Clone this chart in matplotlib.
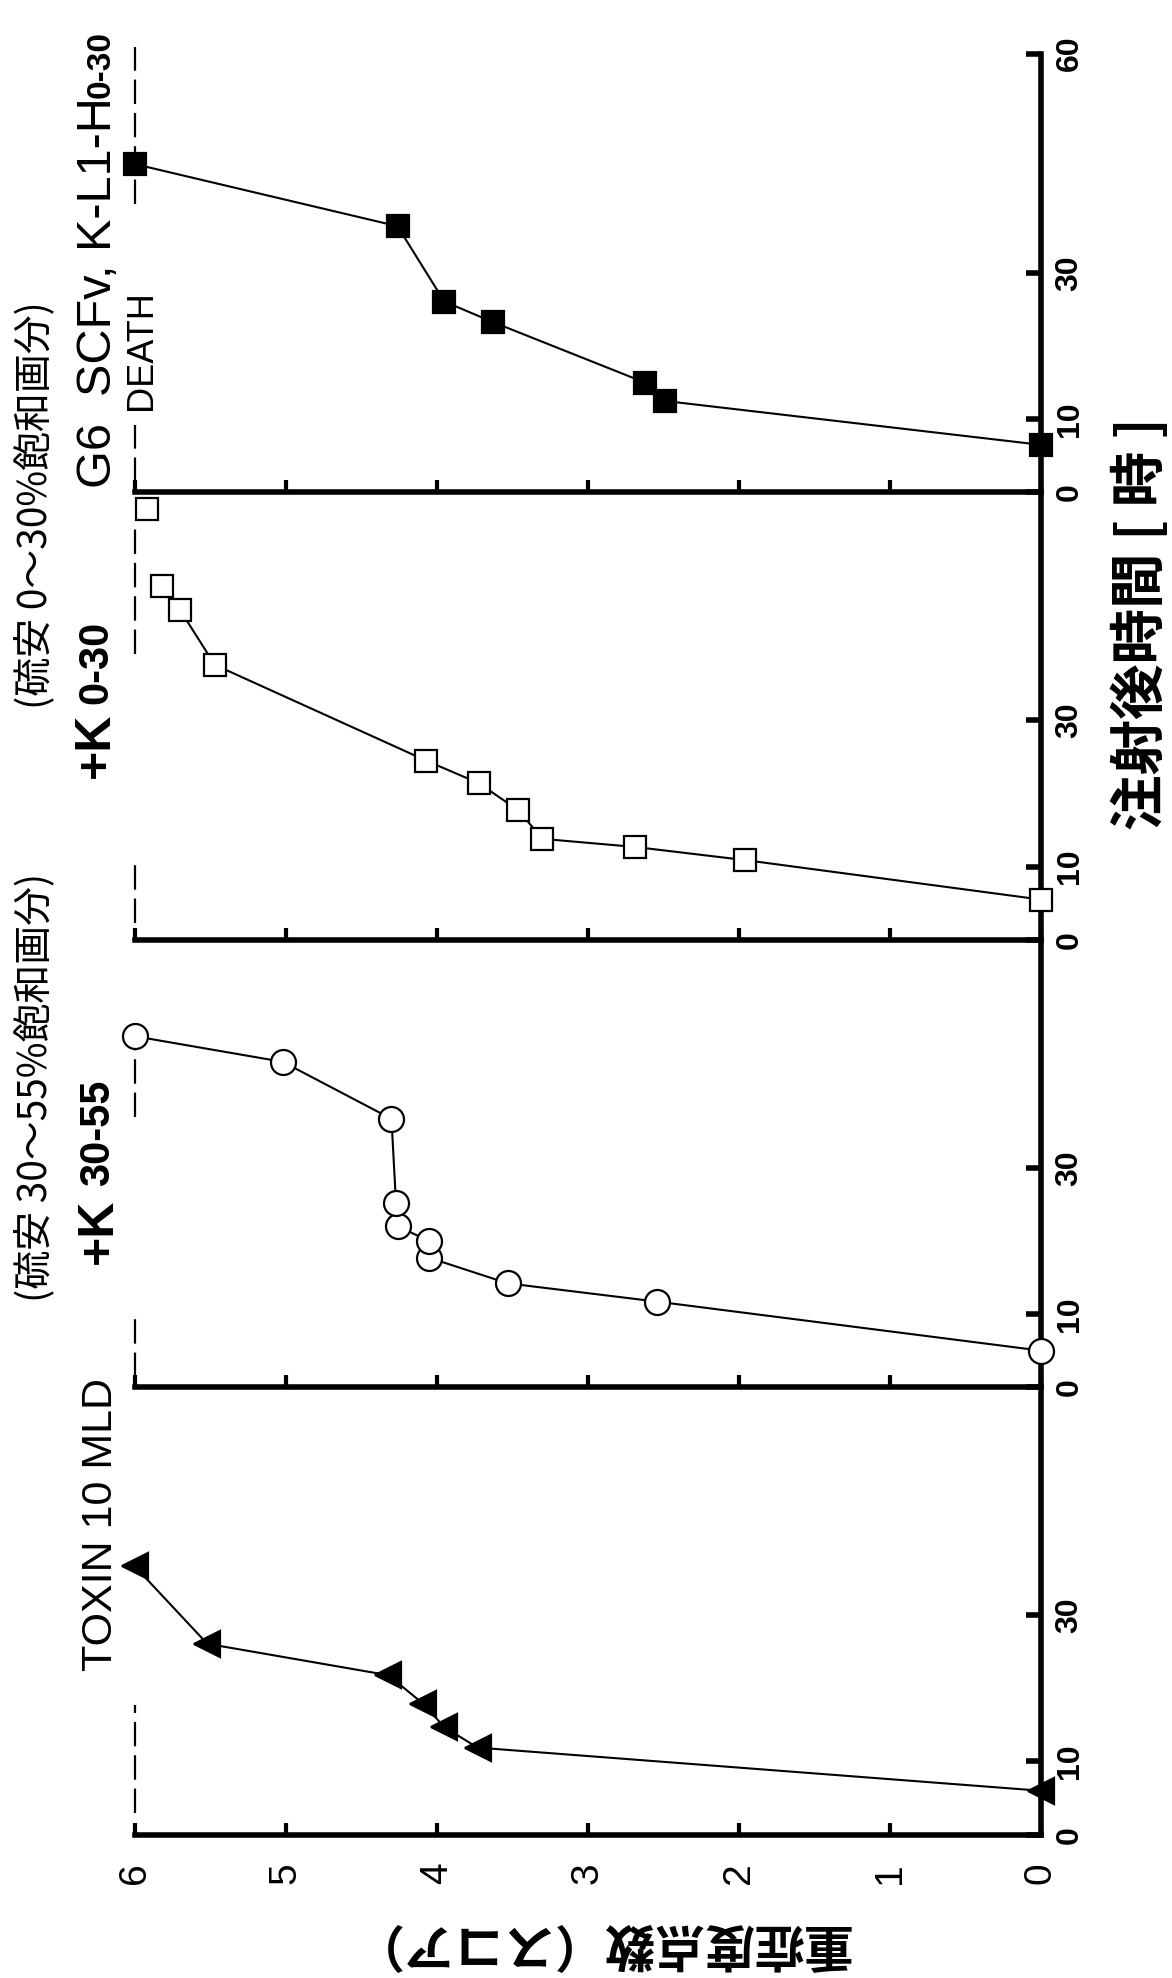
import numpy as np
import matplotlib
matplotlib.use('Agg')
import matplotlib.pyplot as plt

plt.rcParams['font.family'] = ['Liberation Sans', 'Noto Sans CJK JP', 'DejaVu Sans']

# score (0-6) and hours after injection, panels from bottom to top
toxin_score = [0, 3.73, 3.95, 4.09, 4.32, 5.52, 6.0]
toxin_time = [6.0, 11.9, 14.7, 17.9, 21.8, 26.1, 36.7]

k3055_score = [0, 2.54, 3.53, 4.05, 4.05, 4.26, 4.27, 4.30, 5.02, 6.0]
k3055_time = [5.0, 11.7, 14.2, 17.7, 20.0, 22.0, 25.2, 36.7, 44.5, 48.0]

k030_score = [0, 1.96, 2.69, 3.30, 3.46, 3.72, 4.07, 5.47, 5.70, 5.82, 5.92]
k030_time = [5.5, 10.9, 12.7, 13.8, 17.7, 21.4, 24.5, 37.6, 45.1, 48.4, 58.9]

g6_score = [0, 2.49, 2.62, 3.63, 3.95, 4.26, 6.0]
g6_time = [6.5, 12.5, 15.0, 23.3, 26.1, 36.4, 44.9]

# DEATH line (score 6) pieces, hours
death_toxin = [(3.0, 17.7)]
death_k3055 = [(1.4, 9.6), (36.9, 46.5)]
death_k030 = [(2.3, 10.3), (39.1, 56.2)]
death_g6 = [(1.4, 9.2), (39.4, 60.9)]

score_ticks = [0, 1, 2, 3, 4, 5, 6]
time_ticks = [0, 10, 30]
time_ticks_top = [0, 10, 30, 60]

panels = [
    (toxin_score, toxin_time, dict(marker='<', mfc='k', ms=19), death_toxin),
    (k3055_score, k3055_time, dict(marker='o', mfc='w', ms=18), death_k3055),
    (k030_score, k030_time, dict(marker='s', mfc='w', ms=16), death_k030),
    (g6_score, g6_time, dict(marker='s', mfc='k', ms=16), death_g6),
]

fig = plt.figure(figsize=(11.72, 19.78), dpi=100)
left, width = 0.115, 0.773
bottom0, h = 0.0725, 0.2262
tmax = 61.2

for i, (sc, tm, mk, death) in enumerate(panels):
    ax = fig.add_axes([left, bottom0 + i * h, width, h])
    ax.patch.set_alpha(0)
    # last open square of +K 0-30 sits on the death line, not on the curve
    n = len(sc) - 1 if i == 2 else len(sc)
    ax.plot(sc[:n], tm[:n], '-', color='k', lw=1.5, clip_on=False)
    ax.plot(sc, tm, ls='none', mec='k', mew=1.6, clip_on=False, zorder=5, **mk)
    for t0, t1 in death:
        ax.plot([6, 6], [t0, t1], color='k', lw=1.6, dashes=(11, 4), clip_on=False)

    ax.set_xlim(6, 0)
    ax.set_ylim(0, tmax)
    for s in ['top', 'left']:
        ax.spines[s].set_visible(False)
    ax.spines['bottom'].set_linewidth(4)
    ax.spines['right'].set_linewidth(4)
    if i == 3:
        ax.spines['right'].set_bounds(0, 60)

    ax.set_xticks(score_ticks)
    ax.tick_params(axis='x', direction='in', length=9, width=3, pad=20)
    if i == 0:
        ax.set_xticklabels([str(v) for v in score_ticks], rotation=90,
                           fontsize=28, va='top', ha='center')
    else:
        ax.tick_params(axis='x', labelbottom=False)

    ax.yaxis.tick_right()
    yt = time_ticks_top if i == 3 else time_ticks
    ax.set_yticks(yt)
    ax.set_yticklabels([str(v) for v in yt], rotation=90, fontsize=23,
                       fontweight='bold', va='center', ha='left')
    ax.tick_params(axis='y', direction='in', length=11, width=4, pad=10)


def fx(x):
    return x / 929


def fy(y):
    return 1 - y / 1568


txt = dict(rotation=90, rotation_mode='anchor', ha='left', va='center')
cjk = ['Noto Sans CJK JP', 'DejaVu Sans']

fig.text(fx(80), fy(1325), 'TOXIN 10 MLD', fontsize=31, **txt)

fig.text(fx(28), fy(1032), '(硫安 30～55%飽和画分)', fontsize=28, family=cjk, **txt)
fig.text(fx(78), fy(1002), '+K', fontsize=36, fontweight='bold', **txt)
fig.text(fx(78), fy(940), '30-55', fontsize=30, fontweight='bold', **txt)

fig.text(fx(28), fy(562), '(硫安 0～30%飽和画分)', fontsize=28, family=cjk, **txt)
fig.text(fx(76), fy(617), '+K', fontsize=36, fontweight='bold', **txt)
fig.text(fx(76), fy(558), '0-30', fontsize=30, fontweight='bold', **txt)

fig.text(fx(78), fy(387), 'G6  SCFv, K-L1-H', fontsize=35, **txt)
fig.text(fx(80), fy(78), '0-30', fontsize=24, fontweight='bold', **txt)
fig.text(fx(112), fy(325), 'DEATH', fontsize=26, **txt)

fig.text(fx(905), fy(658), '注射後時間 [ 時 ]', fontsize=40, fontweight='bold',
         family=cjk, **txt)
fig.text(fx(475), fy(1540), '重症度点数（スコア）', fontsize=36, fontweight='bold',
         family=cjk, rotation=180, ha='center', va='center')

fig.savefig('out.png', dpi=100)
